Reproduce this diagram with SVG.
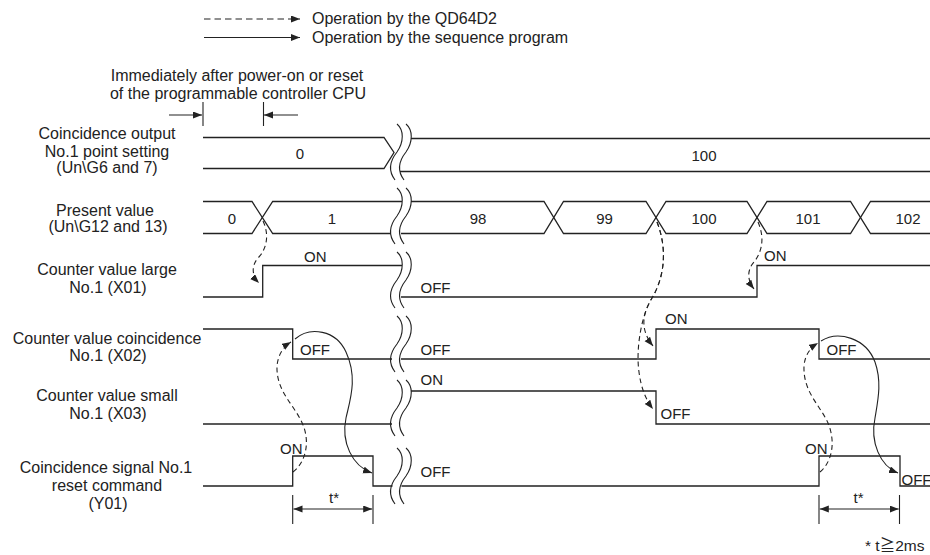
<svg xmlns="http://www.w3.org/2000/svg" width="930" height="555" viewBox="0 0 930 555">
<style>
text{font-family:"Liberation Sans",Arial,"Noto Sans CJK JP",sans-serif;fill:#222}
.lbl{font-size:16px;text-anchor:middle}
.val{font-size:15px;text-anchor:middle}
.st{font-size:15px}
.sig{fill:none;stroke:#222;stroke-width:1.3}
.brk{fill:none;stroke:#222;stroke-width:1.1}
.ln{fill:none;stroke:#222;stroke-width:1.1}
.dsh{fill:none;stroke:#222;stroke-width:1.1;stroke-dasharray:5 3.5}
</style>
<defs>
<marker id="ah" markerWidth="10" markerHeight="8" refX="9" refY="3.5" orient="auto" markerUnits="userSpaceOnUse">
<path d="M0,0 L9,3.5 L0,7 z" fill="#222"/>
</marker>
<g id="brk">
<path class="brk" d="M397,0 C404,6 404,18 397,28 C389,38 389,48 395,56"/>
<path class="brk" d="M406,0 C413,6 413,18 406,28 C398,38 398,48 404,56"/>
</g>
</defs>

<g id="legend">
<line class="dsh" x1="204" y1="19" x2="300" y2="19" marker-end="url(#ah)" style="stroke-dasharray:6.5 4"/>
<text class="st" x="312" y="24" style="font-size:16px">Operation by the QD64D2</text>
<line class="ln" x1="204" y1="37.5" x2="300" y2="37.5" marker-end="url(#ah)"/>
<text class="st" x="312" y="42.5" style="font-size:16px">Operation by the sequence program</text>
</g>

<g id="power-on-note">
<text class="lbl" x="237" y="81">Immediately after power-on or reset</text>
<text class="lbl" x="238" y="99">of the programmable controller CPU</text>
<line class="ln" x1="169" y1="115" x2="202" y2="115" marker-end="url(#ah)"/>
<line class="ln" x1="298" y1="115" x2="264" y2="115" marker-end="url(#ah)"/>
<line class="ln" x1="203" y1="102" x2="203" y2="126"/>
<line class="ln" x1="263.5" y1="102" x2="263.5" y2="126"/>
</g>

<g id="sig-point-setting">
<text class="lbl" x="107" y="139">Coincidence output</text>
<text class="lbl" x="107" y="156.5">No.1 point setting</text>
<text class="lbl" x="107" y="173">(Un\G6 and 7)</text>
<polyline class="sig" points="203,137.5 384,137.5 394,152.5 384,168.5 203,168.5"/>
<line class="sig" x1="411" y1="138.5" x2="930" y2="138.5"/>
<line class="sig" x1="400" y1="171.5" x2="930" y2="171.5"/>
<use href="#brk" transform="translate(0,124)"/>
<text class="val" x="300" y="159">0</text>
<text class="val" x="704" y="161">100</text>
</g>

<g id="sig-present-value">
<text class="lbl" x="105" y="216">Present value</text>
<text class="lbl" x="108" y="232">(Un\G12 and 13)</text>
<polyline class="sig" points="203,201.5 252,201.5 272.7,233.5 391,233.5"/>
<polyline class="sig" points="203,233.5 252,233.5 272.7,201.5 402,201.5"/>
<polyline class="sig" points="411,201.5 544,201.5 563.5,233.5 646,233.5 666,201.5 747,201.5 767,233.5 850.5,233.5 870.5,201.5 930,201.5"/>
<polyline class="sig" points="401,233.5 544,233.5 563.5,201.5 646,201.5 666,233.5 747,233.5 767,201.5 850.5,201.5 870.5,233.5 930,233.5"/>
<use href="#brk" transform="translate(0,188)"/>
<text class="val" x="232" y="224">0</text>
<text class="val" x="332" y="224">1</text>
<text class="val" x="478" y="224">98</text>
<text class="val" x="604.5" y="224">99</text>
<text class="val" x="704" y="224">100</text>
<text class="val" x="808" y="224">101</text>
<text class="val" x="908" y="224">102</text>
</g>

<g id="sig-x01">
<text class="lbl" x="107" y="274.5">Counter value large</text>
<text class="lbl" x="108" y="292.5">No.1 (X01)</text>
<polyline class="sig" points="203,297 262.7,297 262.7,265.5 402,265.5"/>
<polyline class="sig" points="401,297 757,297 757,265.5 930,265.5"/>
<use href="#brk" transform="translate(0,252)"/>
<text class="st" x="304" y="261.5">ON</text>
<text class="st" x="420.5" y="293">OFF</text>
<text class="st" x="764" y="260.5">ON</text>
</g>

<g id="sig-x02">
<text class="lbl" x="107" y="343.5">Counter value coincidence</text>
<text class="lbl" x="108" y="361">No.1 (X02)</text>
<polyline class="sig" points="203,329 292.7,329 292.7,359 392,359"/>
<polyline class="sig" points="401,359 656,359 656,329 819,329 819,359 930,359"/>
<use href="#brk" transform="translate(0,316)"/>
<text class="st" x="300" y="355">OFF</text>
<text class="st" x="420.5" y="355">OFF</text>
<text class="st" x="665" y="323.5">ON</text>
<text class="st" x="826.5" y="355">OFF</text>
</g>

<g id="sig-x03">
<text class="lbl" x="107" y="401">Counter value small</text>
<text class="lbl" x="108" y="418.5">No.1 (X03)</text>
<line class="sig" x1="203" y1="424" x2="392" y2="424"/>
<polyline class="sig" points="411,391 656,391 656,424 930,424"/>
<use href="#brk" transform="translate(0,380)"/>
<text class="st" x="420.5" y="385">ON</text>
<text class="st" x="660.5" y="418.5">OFF</text>
</g>

<g id="sig-y01">
<text class="lbl" x="106" y="473">Coincidence signal No.1</text>
<text class="lbl" x="107" y="491">reset command</text>
<text class="lbl" x="108" y="508.5">(Y01)</text>
<polyline class="sig" points="203,486 292.7,486 292.7,456 373,456 373,486 392.5,486"/>
<polyline class="sig" points="401.5,486 819,486 819,456 900,456 900,486 930,486"/>
<use href="#brk" transform="translate(0,448)"/>
<text class="st" x="280" y="453.5">ON</text>
<text class="st" x="420.5" y="477">OFF</text>
<text class="st" x="805" y="453.5">ON</text>
<text class="st" x="901.5" y="485">OFF</text>
</g>

<g id="dim-t">
<line class="ln" x1="292.7" y1="495" x2="292.7" y2="524"/>
<line class="ln" x1="373" y1="495" x2="373" y2="524"/>
<line class="ln" x1="333" y1="509" x2="293.5" y2="509" marker-end="url(#ah)"/>
<line class="ln" x1="333" y1="509" x2="372.2" y2="509" marker-end="url(#ah)"/>
<text class="val" x="334" y="503">t*</text>
<line class="ln" x1="819" y1="495" x2="819" y2="524"/>
<line class="ln" x1="899.5" y1="495" x2="899.5" y2="524"/>
<line class="ln" x1="859" y1="509" x2="819.8" y2="509" marker-end="url(#ah)"/>
<line class="ln" x1="859" y1="509" x2="898.7" y2="509" marker-end="url(#ah)"/>
<text class="val" x="858.5" y="503">t*</text>
<text class="st" x="865" y="551" style="font-size:15.5px">* t≧2ms</text>
</g>

<g id="connectors">
<path class="dsh" d="M263,221 C270,236 266,250 258,258 C251,266 252,276 259,283" marker-end="url(#ah)"/>
<path class="dsh" d="M758,222 C765,238 762,252 754,262 C747,270 747,280 754,289" marker-end="url(#ah)"/>
<path class="dsh" d="M657,222 C668,250 664,278 652,298 C642,314 640,330 653,346" marker-end="url(#ah)"/>
<path class="dsh" d="M657,222 C668,250 664,278 652,298 C640,318 636,352 639,372 C641,388 646,400 653,409" marker-end="url(#ah)"/>
<path class="dsh" d="M293,472 C306,462 310,442 303,425 C295,405 276,392 277,366 C278,355 283,347 291,342" marker-end="url(#ah)"/>
<path class="ln" d="M295,339 C310,326 336,330 346,352 C358,378 350,400 346,418 C341,442 352,466 372,473" marker-end="url(#ah)"/>
<path class="dsh" d="M820,472 C832,462 836,442 828,423 C820,405 803,392 804,366 C805,355 810,348 818,343" marker-end="url(#ah)"/>
<path class="ln" d="M821,341 C838,330 866,338 875,362 C882,382 878,400 875,418 C870,442 880,466 898,473" marker-end="url(#ah)"/>
</g>
</svg>
